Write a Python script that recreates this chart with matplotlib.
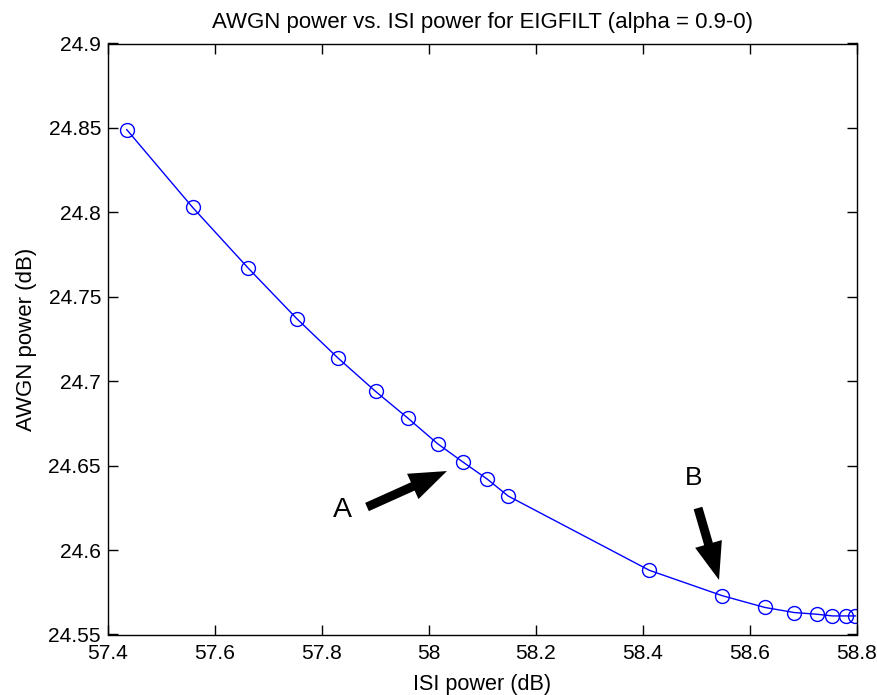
import numpy as np
import matplotlib
matplotlib.use("Agg")
import matplotlib.pyplot as plt
from matplotlib import font_manager

# ISI power (dB) and AWGN power (dB)
isi_db = [57.435, 57.558, 57.662, 57.753, 57.829, 57.900, 57.961, 58.016,
          58.064, 58.109, 58.148, 58.412, 58.548, 58.628, 58.683, 58.725,
          58.754, 58.779, 58.797]
awgn_db = [24.849, 24.803, 24.767, 24.737, 24.714, 24.694, 24.678, 24.663,
           24.652, 24.642, 24.632, 24.588, 24.573, 24.566, 24.563, 24.562,
           24.561, 24.561, 24.561]

xticks = [57.4, 57.6, 57.8, 58, 58.2, 58.4, 58.6, 58.8]
xticklabels = ["57.4", "57.6", "57.8", "58", "58.2", "58.4", "58.6", "58.8"]
yticks = [24.55, 24.6, 24.65, 24.7, 24.75, 24.8, 24.85, 24.9]
yticklabels = ["24.55", "24.6", "24.65", "24.7", "24.75", "24.8", "24.85", "24.9"]

# reference text is a condensed helvetica, use the narrow face if we have it
names = {f.name for f in font_manager.fontManager.ttflist}
if 'Liberation Sans Narrow' in names:
    plt.rcParams['font.family'] = ['Liberation Sans Narrow', 'DejaVu Sans']
    k = 1.0
else:
    plt.rcParams['font.family'] = ['Liberation Sans', 'DejaVu Sans']
    k = 0.82

fig = plt.figure(figsize=(8.78, 6.95), dpi=100)
ax = fig.add_axes([108/878, 1-634.5/695, 749/878, 591/695])

ax.plot(isi_db, awgn_db, color='blue', linewidth=1, marker='o', markersize=10,
        markerfacecolor='none', markeredgecolor='blue', markeredgewidth=1)

ax.set_xlim(57.4, 58.8)
ax.set_ylim(24.55, 24.9)
ax.set_xticks(xticks)
ax.set_xticklabels(xticklabels)
ax.set_yticks(yticks)
ax.set_yticklabels(yticklabels)
ax.tick_params(direction='in', length=7, top=True, right=True, labelsize=18.5*k, width=1)
ax.tick_params(axis='x', pad=7)
ax.tick_params(axis='y', pad=5)
for s in ax.spines.values():
    s.set_linewidth(1)

ax.set_xlabel('ISI power (dB)', fontsize=19*k, labelpad=7.5)
ax.set_ylabel('AWGN power (dB)', fontsize=19.5*k, labelpad=8)
ax.set_title('AWGN power vs. ISI power for EIGFILT (alpha = 0.9-0)', fontsize=19.5*k, pad=11)

# annotation arrows
arrow_kw = dict(arrowstyle='simple,head_width=2.0,head_length=2.7,tail_width=0.65',
                color='black', lw=0, shrinkA=0, shrinkB=0)
ax.annotate('', xy=(58.0336, 24.6468), xytext=(57.8841, 24.6255), arrowprops=arrow_kw)
ax.text(57.8383, 24.6237, 'A', fontsize=25*k, ha='center', va='center')
ax.annotate('', xy=(58.5421, 24.5823), xytext=(58.5028, 24.6249), arrowprops=arrow_kw)
ax.text(58.4953, 24.6427, 'B', fontsize=23*k, ha='center', va='center')

fig.savefig('out.png', dpi=100)
